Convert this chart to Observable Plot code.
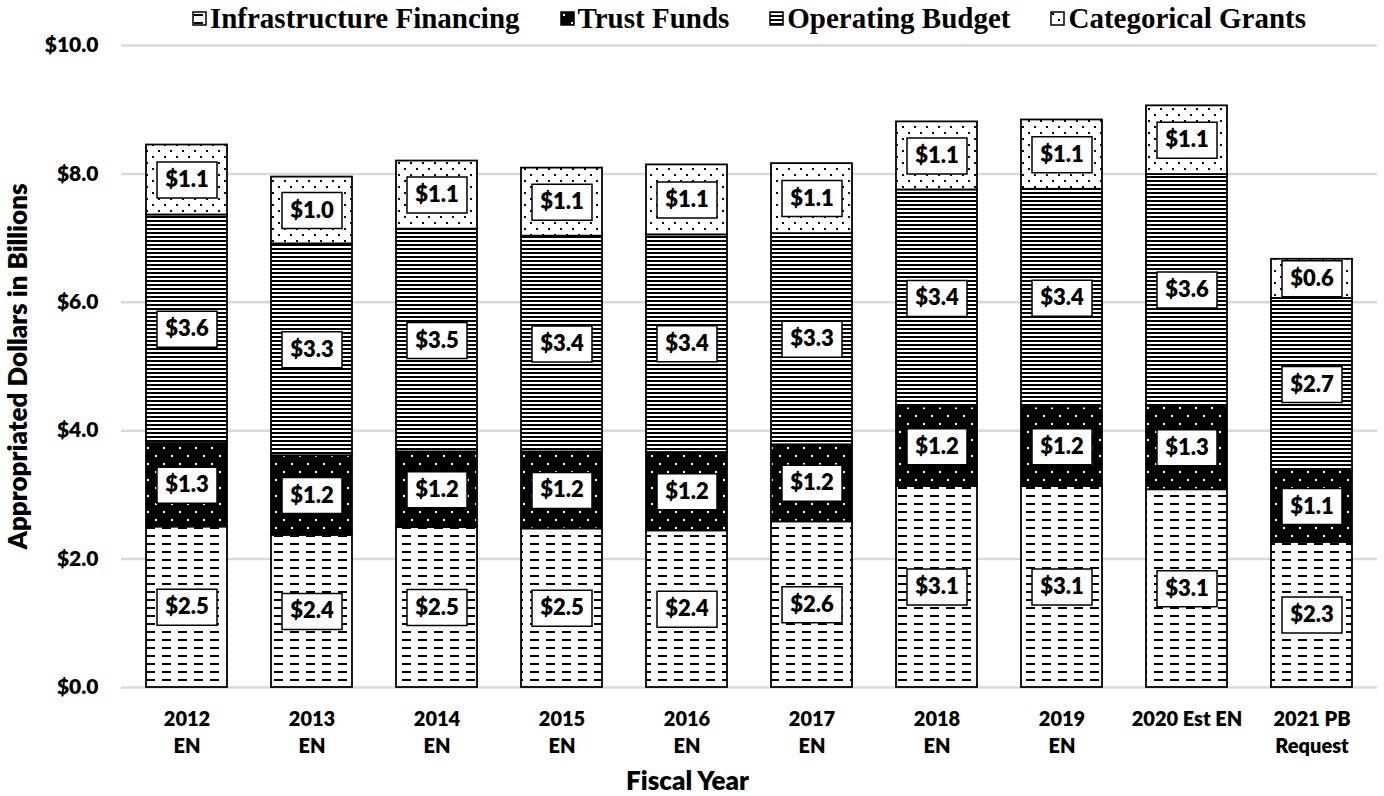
<!DOCTYPE html>
<html><head><meta charset="utf-8">
<script src="https://cdn.jsdelivr.net/npm/d3@7"></script>
<script src="https://cdn.jsdelivr.net/npm/@observablehq/plot@0.6"></script>
<style>
body{margin:0;background:#fff;}
#legend{height:28px;margin-left:121px;width:1256px;display:flex;justify-content:center;align-items:center;gap:40px;font-family:"Liberation Serif","Times New Roman",serif;font-weight:bold;font-size:29px;line-height:28px;color:#000;position:relative;z-index:1;}
.item{display:flex;align-items:center;gap:3px;white-space:nowrap;position:relative;top:4px;}
.item svg{display:block;}
</style></head><body>
<svg width="0" height="0" style="position:absolute">
  <defs>
    <pattern id="pInfra" patternUnits="userSpaceOnUse" width="16" height="8">
      <rect width="16" height="8" fill="#fff"/>
      <rect x="2" y="3" width="9" height="2" fill="#000"/>
    </pattern>
    <pattern id="pTrust" patternUnits="userSpaceOnUse" width="16" height="16">
      <rect width="16" height="16" fill="#000"/>
      <rect x="3" y="3" width="2" height="2" fill="#fff"/>
      <rect x="11" y="11" width="2" height="2" fill="#fff"/>
    </pattern>
    <pattern id="pOper" patternUnits="userSpaceOnUse" width="8" height="4">
      <rect width="8" height="4" fill="#fff"/>
      <rect x="0" y="0" width="8" height="2" fill="#000"/>
    </pattern>
    <pattern id="pCat" patternUnits="userSpaceOnUse" width="12" height="12">
      <rect width="12" height="12" fill="#fff"/>
      <rect x="2" y="2" width="2" height="2" fill="#000"/>
      <rect x="8" y="8" width="2" height="2" fill="#000"/>
    </pattern>
  </defs>
</svg>
<div id="legend"></div>
<div id="chart"></div>
<script>
const fiscalYears = ["2012\nEN","2013\nEN","2014\nEN","2015\nEN","2016\nEN","2017\nEN","2018\nEN","2019\nEN","2020 Est EN","2021 PB\nRequest"];
const seriesNames = ["Infrastructure Financing","Trust Funds","Operating Budget","Categorical Grants"];
const infrastructure = [2.50, 2.37, 2.49, 2.47, 2.44, 2.58, 3.13, 3.13, 3.08, 2.26];
const trustFunds     = [1.30, 1.24, 1.18, 1.20, 1.22, 1.20, 1.24, 1.24, 1.31, 1.12];
const operating      = [3.56, 3.30, 3.47, 3.36, 3.39, 3.29, 3.38, 3.39, 3.60, 2.68];
const categorical    = [1.09, 1.04, 1.06, 1.06, 1.09, 1.09, 1.06, 1.08, 1.07, 0.61];
const yTicks = [0, 2, 4, 6, 8, 10];
const patternIds = ["pInfra","pTrust","pOper","pCat"];

const seriesValues = [infrastructure, trustFunds, operating, categorical];
const table = [];
fiscalYears.forEach((fy, i) => {
  seriesValues.forEach((arr, j) => table.push({fy, series: seriesNames[j], value: arr[i]}));
});

// legend
const legend = document.getElementById("legend");
seriesNames.forEach((name, j) => {
  const item = document.createElement("div");
  item.className = "item";
  item.innerHTML = `<svg width="15" height="15"><rect x="1" y="1" width="13" height="13" fill="url(#${patternIds[j]})" stroke="#000" stroke-width="1.5"/></svg><span>${name}</span>`;
  legend.appendChild(item);
});

const boxSymbol = { draw(ctx) { ctx.rect(-30, -18, 60, 36); } };
const font = "Lato, 'Open Sans', sans-serif";
const fw = 800;

const chart = Plot.plot({
  width: 1384,
  height: 768,
  marginTop: 17,
  marginBottom: 109,
  marginLeft: 121,
  marginRight: 7,
  style: {fontFamily: font, background: "white", color: "black", overflow: "visible"},
  x: {domain: fiscalYears, paddingInner: 0.35, paddingOuter: 0.175},
  y: {domain: [0, 10]},
  color: {domain: seriesNames, range: patternIds.map(id => `url(#${id})`)},
  marks: [
    Plot.gridY(yTicks, {stroke: "#d9d9d9", strokeOpacity: 1, strokeWidth: 2.5}),
    Plot.barY(table, {x: "fy", y: "value", z: "series", fill: "series", stroke: "black", strokeWidth: 1.8}),
    Plot.dot(table, Plot.stackY({x: "fy", y: "value", z: "series", symbol: boxSymbol, fill: "white", stroke: "black", strokeWidth: 1.5})),
    Plot.text(table, Plot.stackY({x: "fy", y: "value", z: "series", text: d => "$" + d.value.toFixed(1), fontSize: 22, fontWeight: fw, fill: "black"})),
    Plot.axisY(yTicks, {tickSize: 0, tickPadding: 23, tickFormat: d => "$" + d.toFixed(1), fontSize: 21, fontWeight: fw, label: null}),
    Plot.axisX({tickSize: 0, tickPadding: 19, fontSize: 20, fontWeight: fw, lineHeight: 1.35, label: null}),
    Plot.text(["Appropriated Dollars in Billions"], {frameAnchor: "left", dx: -103, rotate: -90, textAnchor: "middle", fontSize: 26, fontWeight: fw}),
    Plot.text(["Fiscal Year"], {frameAnchor: "bottom", dx: -62, dy: 102, fontSize: 26, fontWeight: fw})
  ]
});
document.getElementById("chart").appendChild(chart);
</script>
</body></html>
